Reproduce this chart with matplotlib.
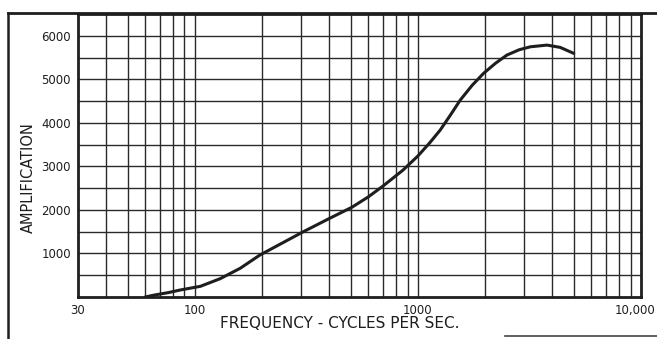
import numpy as np
import matplotlib
matplotlib.use("Agg")
import matplotlib.pyplot as plt
from matplotlib.lines import Line2D
from matplotlib.transforms import ScaledTranslation

# Data
freq = [60, 66, 76, 86, 106, 130, 160, 196, 216, 307, 400, 506, 600, 701,
        859, 1000, 1130, 1260, 1400, 1549, 1750, 1970, 2230, 2507, 2850,
        3195, 3792, 4345, 4994]
amp = [0, 45, 100, 160, 245, 420, 660, 964, 1080, 1500, 1800, 2060, 2300,
       2556, 2917, 3238, 3540, 3835, 4180, 4523, 4860, 5137, 5370, 5557,
       5680, 5747, 5786, 5733, 5596]

x_tick_vals = [30, 100, 1000, 10000]
x_tick_labels = ["30", "100", "1000", "10,000"]
y_tick_vals = [1000, 2000, 3000, 4000, 5000, 6000]
y_tick_labels = ["1000", "2000", "3000", "4000", "5000", "6000"]

W, H = 657, 339
fig = plt.figure(figsize=(W / 100, H / 100), dpi=100)
fig.patch.set_facecolor("white")
ax = fig.add_axes([78 / W, 42 / H, 563 / W, 283 / H])

ink = "#1e1e1e"
grid_ink = "#2a2a2a"
ax.set_xscale("log")
ax.set_xlim(30, 10000)
ax.set_ylim(0, 6500)

# grid: vertical lines at every 1..9 multiple, horizontal every 500
vgrid = [m * 10 ** e for e in range(1, 5) for m in range(1, 10)]
vgrid = [v for v in vgrid if 30 < v < 10000]
for v in vgrid:
    ax.axvline(v, color=grid_ink, lw=1.0, zorder=1)
for h in np.arange(500, 6500, 500):
    ax.axhline(h, color=grid_ink, lw=1.0, zorder=1)

ax.plot(freq, amp, color=ink, lw=2.2, solid_capstyle="round",
        solid_joinstyle="round", zorder=3)

for s in ax.spines.values():
    s.set_color(ink)
    s.set_linewidth(2.0)

ax.set_xticks(x_tick_vals)
ax.xaxis.set_minor_locator(matplotlib.ticker.NullLocator())
ax.set_xticklabels(x_tick_labels)
ax.set_yticks(y_tick_vals)
ax.set_yticklabels(y_tick_labels)
ax.tick_params(axis="both", length=0, labelsize=8.5, colors=ink, pad=5)

# last x label sits slightly left of its tick in the reference
last = ax.get_xticklabels()[-1]
last.set_transform(last.get_transform() +
                   ScaledTranslation(-6 / 100, 0, fig.dpi_scale_trans))

fig.text(340 / W, 1 - 323 / H, "FREQUENCY - CYCLES PER SEC.", ha="center",
         va="center", fontsize=11, color=ink)
fig.text(28 / W, 1 - 178 / H, "AMPLIFICATION", ha="center", va="center",
         rotation=90, fontsize=10.5, color=ink)

# outer frame lines of the scanned page
fig.add_artist(Line2D([8 / W, 8 / W], [0, 1 - 13 / H], color=ink, lw=1.8,
                      transform=fig.transFigure))
fig.add_artist(Line2D([8 / W, 1], [1 - 13 / H, 1 - 13 / H], color=ink, lw=2.0,
                      transform=fig.transFigure))
fig.add_artist(Line2D([505 / W, 1], [1 - 336 / H, 1 - 336 / H], color="#444444",
                      lw=1.2, transform=fig.transFigure))

fig.savefig("out.png", dpi=100, facecolor="white")
